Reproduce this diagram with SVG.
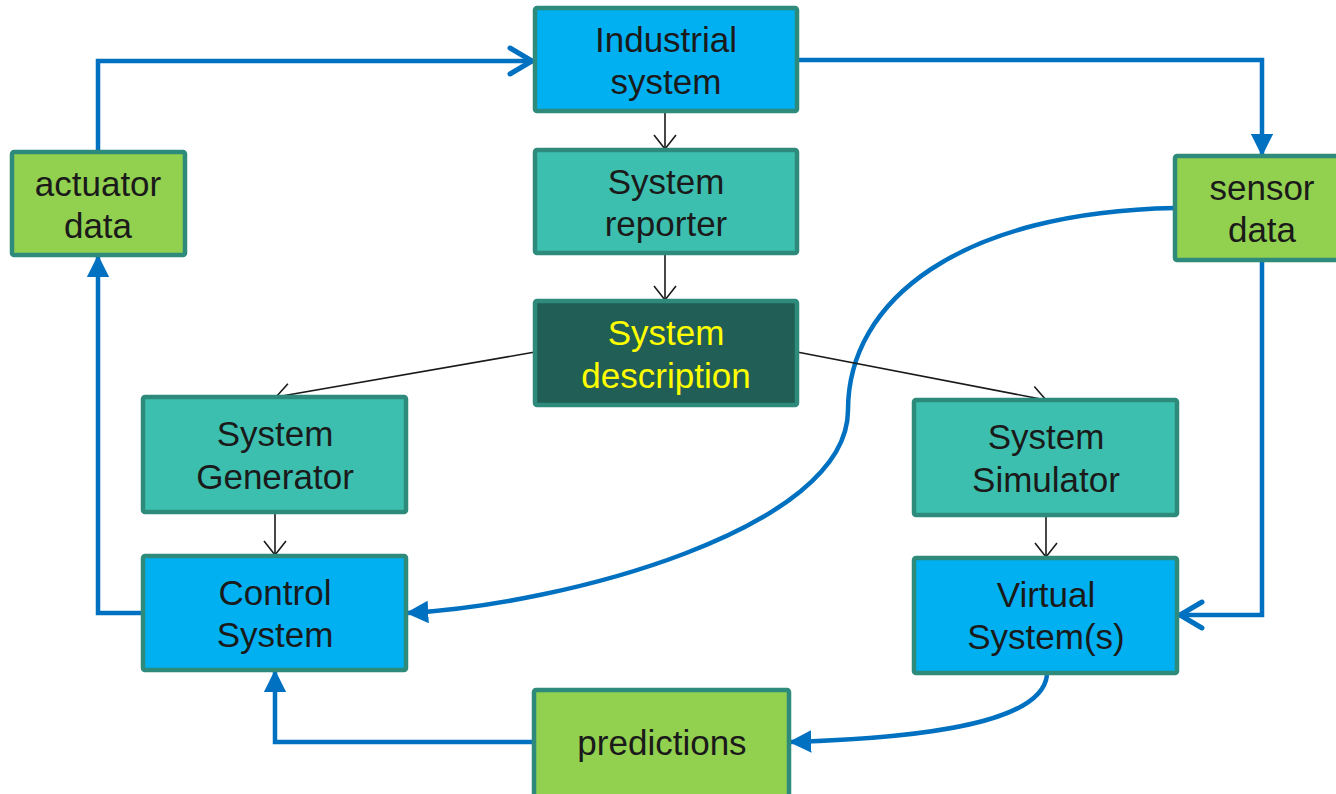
<svg xmlns="http://www.w3.org/2000/svg" width="1336" height="794" viewBox="0 0 1336 794">
  <style>
    .box { stroke: #2E8B7B; stroke-width: 4.5; }
    .blue { fill: #00B0F0; }
    .teal { fill: #3CBFAE; }
    .dark { fill: #215E55; }
    .green { fill: #92D050; }
    .lbl { font-family: "Liberation Sans", Arial, sans-serif; font-size: 35px; fill: #1A1A1A; text-anchor: middle; }
    .lbl.yellow { fill: #FFFF00; }
    .flow { fill: none; stroke: #0070C0; stroke-width: 4.5; }
    .thin { fill: none; stroke: #1A1A1A; stroke-width: 1.6; }
  </style>
  <defs>
    <marker id="tri" viewBox="0 0 10 10" refX="9" refY="5" markerWidth="5" markerHeight="5" markerUnits="strokeWidth" orient="auto">
      <path d="M0,0 L10,5 L0,10 z" fill="#0070C0"/>
    </marker>
    <marker id="chev" viewBox="0 0 32 32" refX="29" refY="16" markerWidth="32" markerHeight="32" markerUnits="userSpaceOnUse" orient="auto">
      <path d="M6,3 L28,16 L6,29" fill="none" stroke="#0070C0" stroke-width="5" stroke-linecap="round" stroke-linejoin="round"/>
    </marker>
    <marker id="open" viewBox="0 0 24 24" refX="22" refY="12" markerWidth="24" markerHeight="24" markerUnits="userSpaceOnUse" orient="auto">
      <path d="M8,1 L22,12 L8,23" fill="none" stroke="#1A1A1A" stroke-width="1.6"/>
    </marker>
  </defs>

  <g id="connectors">
    <!-- feedback loop around the plant -->
    <path class="flow" d="M98,152 V61 H533" marker-end="url(#chev)"/>
    <path class="flow" d="M797,60 H1262 V154" marker-end="url(#tri)"/>
    <path class="flow" d="M143,613 H98 V257" marker-end="url(#tri)"/>
    <path class="flow" d="M1262,260 V615 H1179" marker-end="url(#chev)"/>
    <path class="flow" d="M1175,208 C960,212 848,300 848,410 C848,530 560,605 408,613" marker-end="url(#tri)"/>
    <path class="flow" d="M1047,675 C1042,722 930,738 791,742" marker-end="url(#tri)"/>
    <path class="flow" d="M534,742 H275 V672" marker-end="url(#tri)"/>
    <!-- description pipeline -->
    <path class="thin" d="M665,111 V149" marker-end="url(#open)"/>
    <path class="thin" d="M665,253 V300" marker-end="url(#open)"/>
    <path class="thin" d="M535,352 L276,397" marker-end="url(#open)"/>
    <path class="thin" d="M797,352 L1046,400" marker-end="url(#open)"/>
    <path class="thin" d="M275,512 V555" marker-end="url(#open)"/>
    <path class="thin" d="M1046,515 V557" marker-end="url(#open)"/>
  </g>

  <g id="industrial-system">
    <rect class="box blue" x="535" y="8" width="262" height="103" rx="2"/>
    <text class="lbl" x="666" y="52">Industrial</text>
    <text class="lbl" x="666" y="94">system</text>
  </g>
  <g id="system-reporter">
    <rect class="box teal" x="535" y="150" width="262" height="103" rx="2"/>
    <text class="lbl" x="666" y="194">System</text>
    <text class="lbl" x="666" y="236">reporter</text>
  </g>
  <g id="system-description">
    <rect class="box dark" x="535" y="301" width="262" height="104" rx="2"/>
    <text class="lbl yellow" x="666" y="345">System</text>
    <text class="lbl yellow" x="666" y="388">description</text>
  </g>
  <g id="actuator-data">
    <rect class="box green" x="12" y="152" width="173" height="103" rx="2"/>
    <text class="lbl" x="98" y="196">actuator</text>
    <text class="lbl" x="98" y="238">data</text>
  </g>
  <g id="sensor-data">
    <rect class="box green" x="1175" y="156" width="174" height="104" rx="2"/>
    <text class="lbl" x="1262" y="200">sensor</text>
    <text class="lbl" x="1262" y="242">data</text>
  </g>
  <g id="system-generator">
    <rect class="box teal" x="143" y="397" width="263" height="115" rx="2"/>
    <text class="lbl" x="275" y="446">System</text>
    <text class="lbl" x="275" y="489">Generator</text>
  </g>
  <g id="system-simulator">
    <rect class="box teal" x="914" y="400" width="263" height="115" rx="2"/>
    <text class="lbl" x="1046" y="449">System</text>
    <text class="lbl" x="1046" y="492">Simulator</text>
  </g>
  <g id="control-system">
    <rect class="box blue" x="143" y="556" width="263" height="114" rx="2"/>
    <text class="lbl" x="275" y="605">Control</text>
    <text class="lbl" x="275" y="647">System</text>
  </g>
  <g id="virtual-systems">
    <rect class="box blue" x="914" y="558" width="263" height="115" rx="2"/>
    <text class="lbl" x="1046" y="607">Virtual</text>
    <text class="lbl" x="1046" y="649">System(s)</text>
  </g>
  <g id="predictions">
    <rect class="box green" x="534" y="690" width="255" height="108" rx="2"/>
    <text class="lbl" x="662" y="755">predictions</text>
  </g>
</svg>
